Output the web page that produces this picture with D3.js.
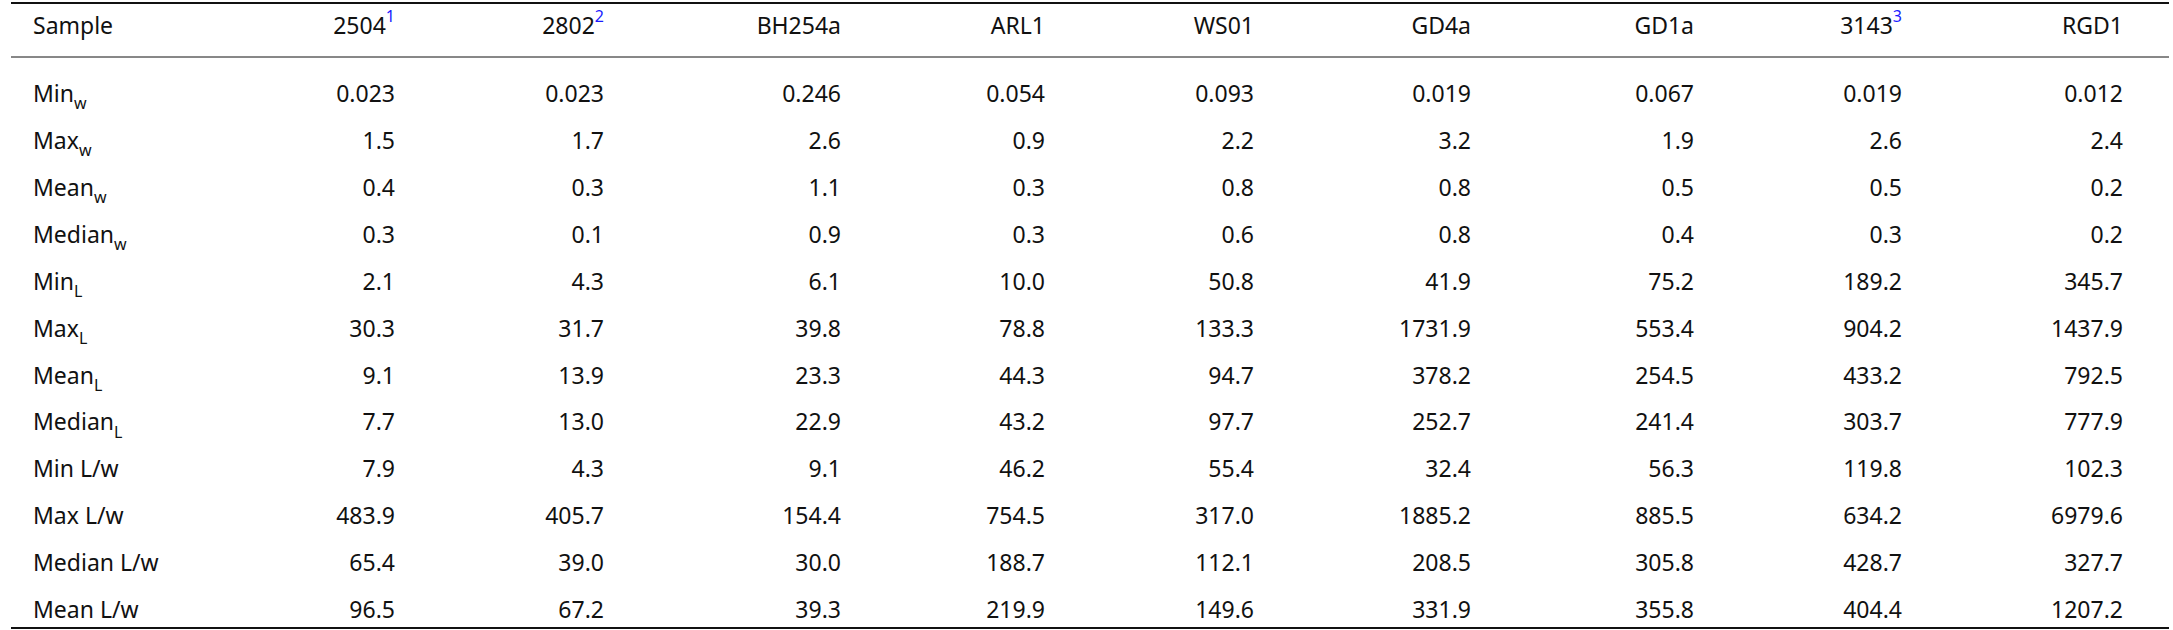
<!DOCTYPE html>
<html><head><meta charset="utf-8">
<script src="https://cdn.jsdelivr.net/npm/d3@7"></script>
<style>body{margin:0;background:#fff}text{font-family:"Noto Sans",sans-serif;font-size:23px;fill:#111}</style>
</head><body><svg id="t" width="2173" height="630"></svg>
<script>
// table data
const samples = ["2504", "2802", "BH254a", "ARL1", "WS01", "GD4a", "GD1a", "3143", "RGD1"];
const sampleNotes = ["1", "2", "", "", "", "", "", "3", ""];
const rowLabels = [["Min", "w"], ["Max", "w"], ["Mean", "w"], ["Median", "w"], ["Min", "L"], ["Max", "L"],
  ["Mean", "L"], ["Median", "L"], ["Min L/w", ""], ["Max L/w", ""], ["Median L/w", ""], ["Mean L/w", ""]];
const values = [
  ["0.023", "0.023", "0.246", "0.054", "0.093", "0.019", "0.067", "0.019", "0.012"],
  ["1.5", "1.7", "2.6", "0.9", "2.2", "3.2", "1.9", "2.6", "2.4"],
  ["0.4", "0.3", "1.1", "0.3", "0.8", "0.8", "0.5", "0.5", "0.2"],
  ["0.3", "0.1", "0.9", "0.3", "0.6", "0.8", "0.4", "0.3", "0.2"],
  ["2.1", "4.3", "6.1", "10.0", "50.8", "41.9", "75.2", "189.2", "345.7"],
  ["30.3", "31.7", "39.8", "78.8", "133.3", "1731.9", "553.4", "904.2", "1437.9"],
  ["9.1", "13.9", "23.3", "44.3", "94.7", "378.2", "254.5", "433.2", "792.5"],
  ["7.7", "13.0", "22.9", "43.2", "97.7", "252.7", "241.4", "303.7", "777.9"],
  ["7.9", "4.3", "9.1", "46.2", "55.4", "32.4", "56.3", "119.8", "102.3"],
  ["483.9", "405.7", "154.4", "754.5", "317.0", "1885.2", "885.5", "634.2", "6979.6"],
  ["65.4", "39.0", "30.0", "188.7", "112.1", "208.5", "305.8", "428.7", "327.7"],
  ["96.5", "67.2", "39.3", "219.9", "149.6", "331.9", "355.8", "404.4", "1207.2"]
];
const colRight = [395, 604, 841, 1045, 1254, 1471, 1694, 1902, 2123];

const svg = d3.select("#t");
const y = d3.scalePoint().domain(d3.range(rowLabels.length)).range([94, 610]);
const x = d3.scaleOrdinal().domain(samples).range(colRight);

// rules
[[3, 2], [57, 1], [628, 2]].forEach(([yy, w]) =>
  svg.append("line").attr("x1", 11).attr("x2", 2169).attr("y1", yy).attr("y2", yy)
    .attr("stroke", "#111").attr("stroke-width", w));

// header
svg.append("text").attr("x", 33).attr("y", 26).attr("dy", "0.35em").text("Sample");
samples.forEach((s, i) => {
  const t = svg.append("text").attr("x", x(s)).attr("y", 26).attr("dy", "0.35em").attr("text-anchor", "end");
  t.append("tspan").text(s);
  if (sampleNotes[i]) t.append("tspan").attr("dy", "-0.75em").style("font-size", "16px").style("fill", "#1a1aff").text(sampleNotes[i]);
});

// body
rowLabels.forEach(([lab, sub], r) => {
  const t = svg.append("text").attr("x", 33).attr("y", y(r)).attr("dy", "0.35em");
  t.append("tspan").text(lab);
  if (sub) t.append("tspan").attr("dy", "0.45em").style("font-size", "16px").text(sub);
  values[r].forEach((v, c) => {
    svg.append("text").attr("x", x(samples[c])).attr("y", y(r)).attr("dy", "0.35em")
      .attr("text-anchor", "end").text(v);
  });
});
</script></body></html>
